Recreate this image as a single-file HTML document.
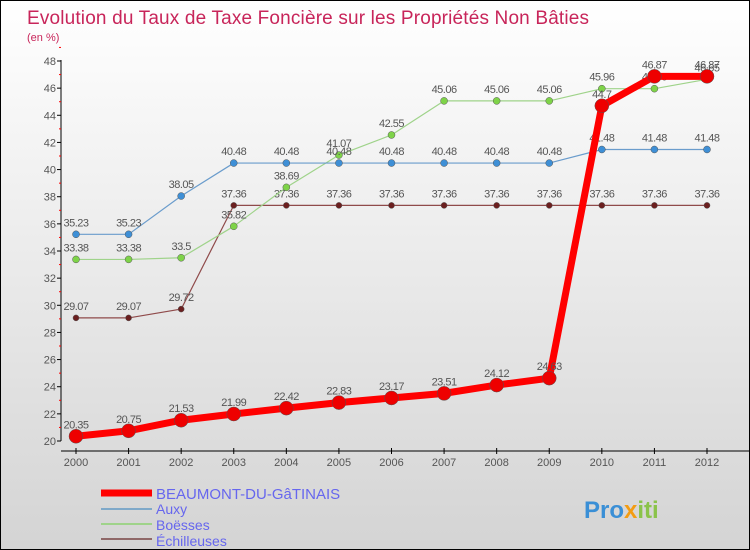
<!DOCTYPE html>
<html><head><meta charset="utf-8"><style>
body{margin:0;}
#c{width:748px;height:548px;border:1px solid #000;background:linear-gradient(#fff,#d4d4d4);position:relative;font-family:"Liberation Sans",sans-serif;}
</style></head><body>
<div id="c">
<svg id="s" width="748" height="548" style="position:absolute;left:0;top:0">
<text x="26" y="23" font-size="19" fill="#c8255a" textLength="562">Evolution du Taux de Taxe Foncière sur les Propriétés Non Bâties</text>
<text x="26" y="40" font-size="11" fill="#c8255a">(en %)</text>
<line x1="60" y1="59" x2="60" y2="440" stroke="#000"/>
<line x1="60" y1="450" x2="748" y2="450" stroke="#000"/>
<g id="ax"></g><g id="series"></g>
<g>
<line x1="100" y1="492" x2="151" y2="492" stroke="#f00" stroke-width="7"/>
<text x="155" y="498" font-size="15" fill="#6666ee">BEAUMONT-DU-GâTINAIS</text>
<line x1="100" y1="508" x2="151" y2="508" stroke="#7fa9c9" stroke-width="2"/>
<text x="155" y="513" font-size="14" fill="#6666ee">Auxy</text>
<line x1="100" y1="523" x2="151" y2="523" stroke="#9fd38a" stroke-width="2"/>
<text x="155" y="529" font-size="14" fill="#6666ee">Boësses</text>
<line x1="100" y1="538" x2="151" y2="538" stroke="#8f6868" stroke-width="2"/>
<text x="155" y="545" font-size="14" fill="#6666ee">Échilleuses</text>
</g>
<text x="583" y="517" font-size="24" font-weight="bold" fill="#3a8fd6">Pro<tspan fill="#f39c12">x</tspan><tspan fill="#8bc34a">iti</tspan></text>
</svg></div>
<script>
const years=[2000,2001,2002,2003,2004,2005,2006,2007,2008,2009,2010,2011,2012];
const yTicks=[20,22,24,26,28,30,32,34,36,38,40,42,44,46,48];
const beaumont=[20.35,20.75,21.53,21.99,22.42,22.83,23.17,23.51,24.12,24.63,44.7,46.87,46.87];
const auxy=[35.23,35.23,38.05,40.48,40.48,40.48,40.48,40.48,40.48,40.48,41.48,41.48,41.48];
const boesses=[33.38,33.38,33.5,35.82,38.69,41.07,42.55,45.06,45.06,45.06,45.96,45.96,46.65];
const echilleuses=[29.07,29.07,29.72,37.36,37.36,37.36,37.36,37.36,37.36,37.36,37.36,37.36,37.36];
const NS="http://www.w3.org/2000/svg";
const X=i=>75+i*(631/12), Y=v=>440-(v-20)*(380/28);
function el(t,a,p){const e=document.createElementNS(NS,t);for(const k in a)e.setAttribute(k,a[k]);p.appendChild(e);return e;}
const ax=document.getElementById('ax');
yTicks.forEach(v=>{el('line',{x1:56,x2:60,y1:Y(v),y2:Y(v),stroke:'#000'},ax);
el('line',{x1:58,x2:60,y1:Y(v+1),y2:Y(v+1),stroke:'#f00'},ax);
const t=el('text',{x:55,y:Y(v)+4,'font-size':11,fill:'#555','text-anchor':'end'},ax);t.textContent=v;

});
years.forEach((y,i)=>{el('line',{x1:X(i),x2:X(i),y1:447,y2:453,stroke:'#000'},ax);
const t=el('text',{x:X(i),y:465,'font-size':11,fill:'#555','text-anchor':'middle'},ax);t.textContent=y;

});
const sg=document.getElementById('series');
function draw(d,col,dot,w,r,name){
const g=el('g',{},sg);


el('polyline',{points:d.map((v,i)=>X(i)+','+Y(v)).join(' '),fill:'none',stroke:col,'stroke-width':w,'stroke-linejoin':'round'},g);
d.forEach((v,i)=>{const c=el('circle',{cx:X(i),cy:Y(v),r:r,fill:dot,stroke:'#555','stroke-width':0.5},g);


const t=el('text',{x:X(i),y:Y(v)-8,'font-size':11,fill:'#555','text-anchor':'middle','letter-spacing':'-0.5'},g);t.textContent=v;});}
draw(echilleuses,'#8f4a4a','#6b1f1f',1.2,3,'echilleuses-series');
draw(boesses,'#9fd38a','#7ed348',1.2,3.5,'boesses-series');
draw(auxy,'#6a9ccc','#3e8fd6',1.2,3.5,'auxy-series');
draw(beaumont,'#f00','#e00',7,7,'beaumont-series');
</script>
</body></html>
